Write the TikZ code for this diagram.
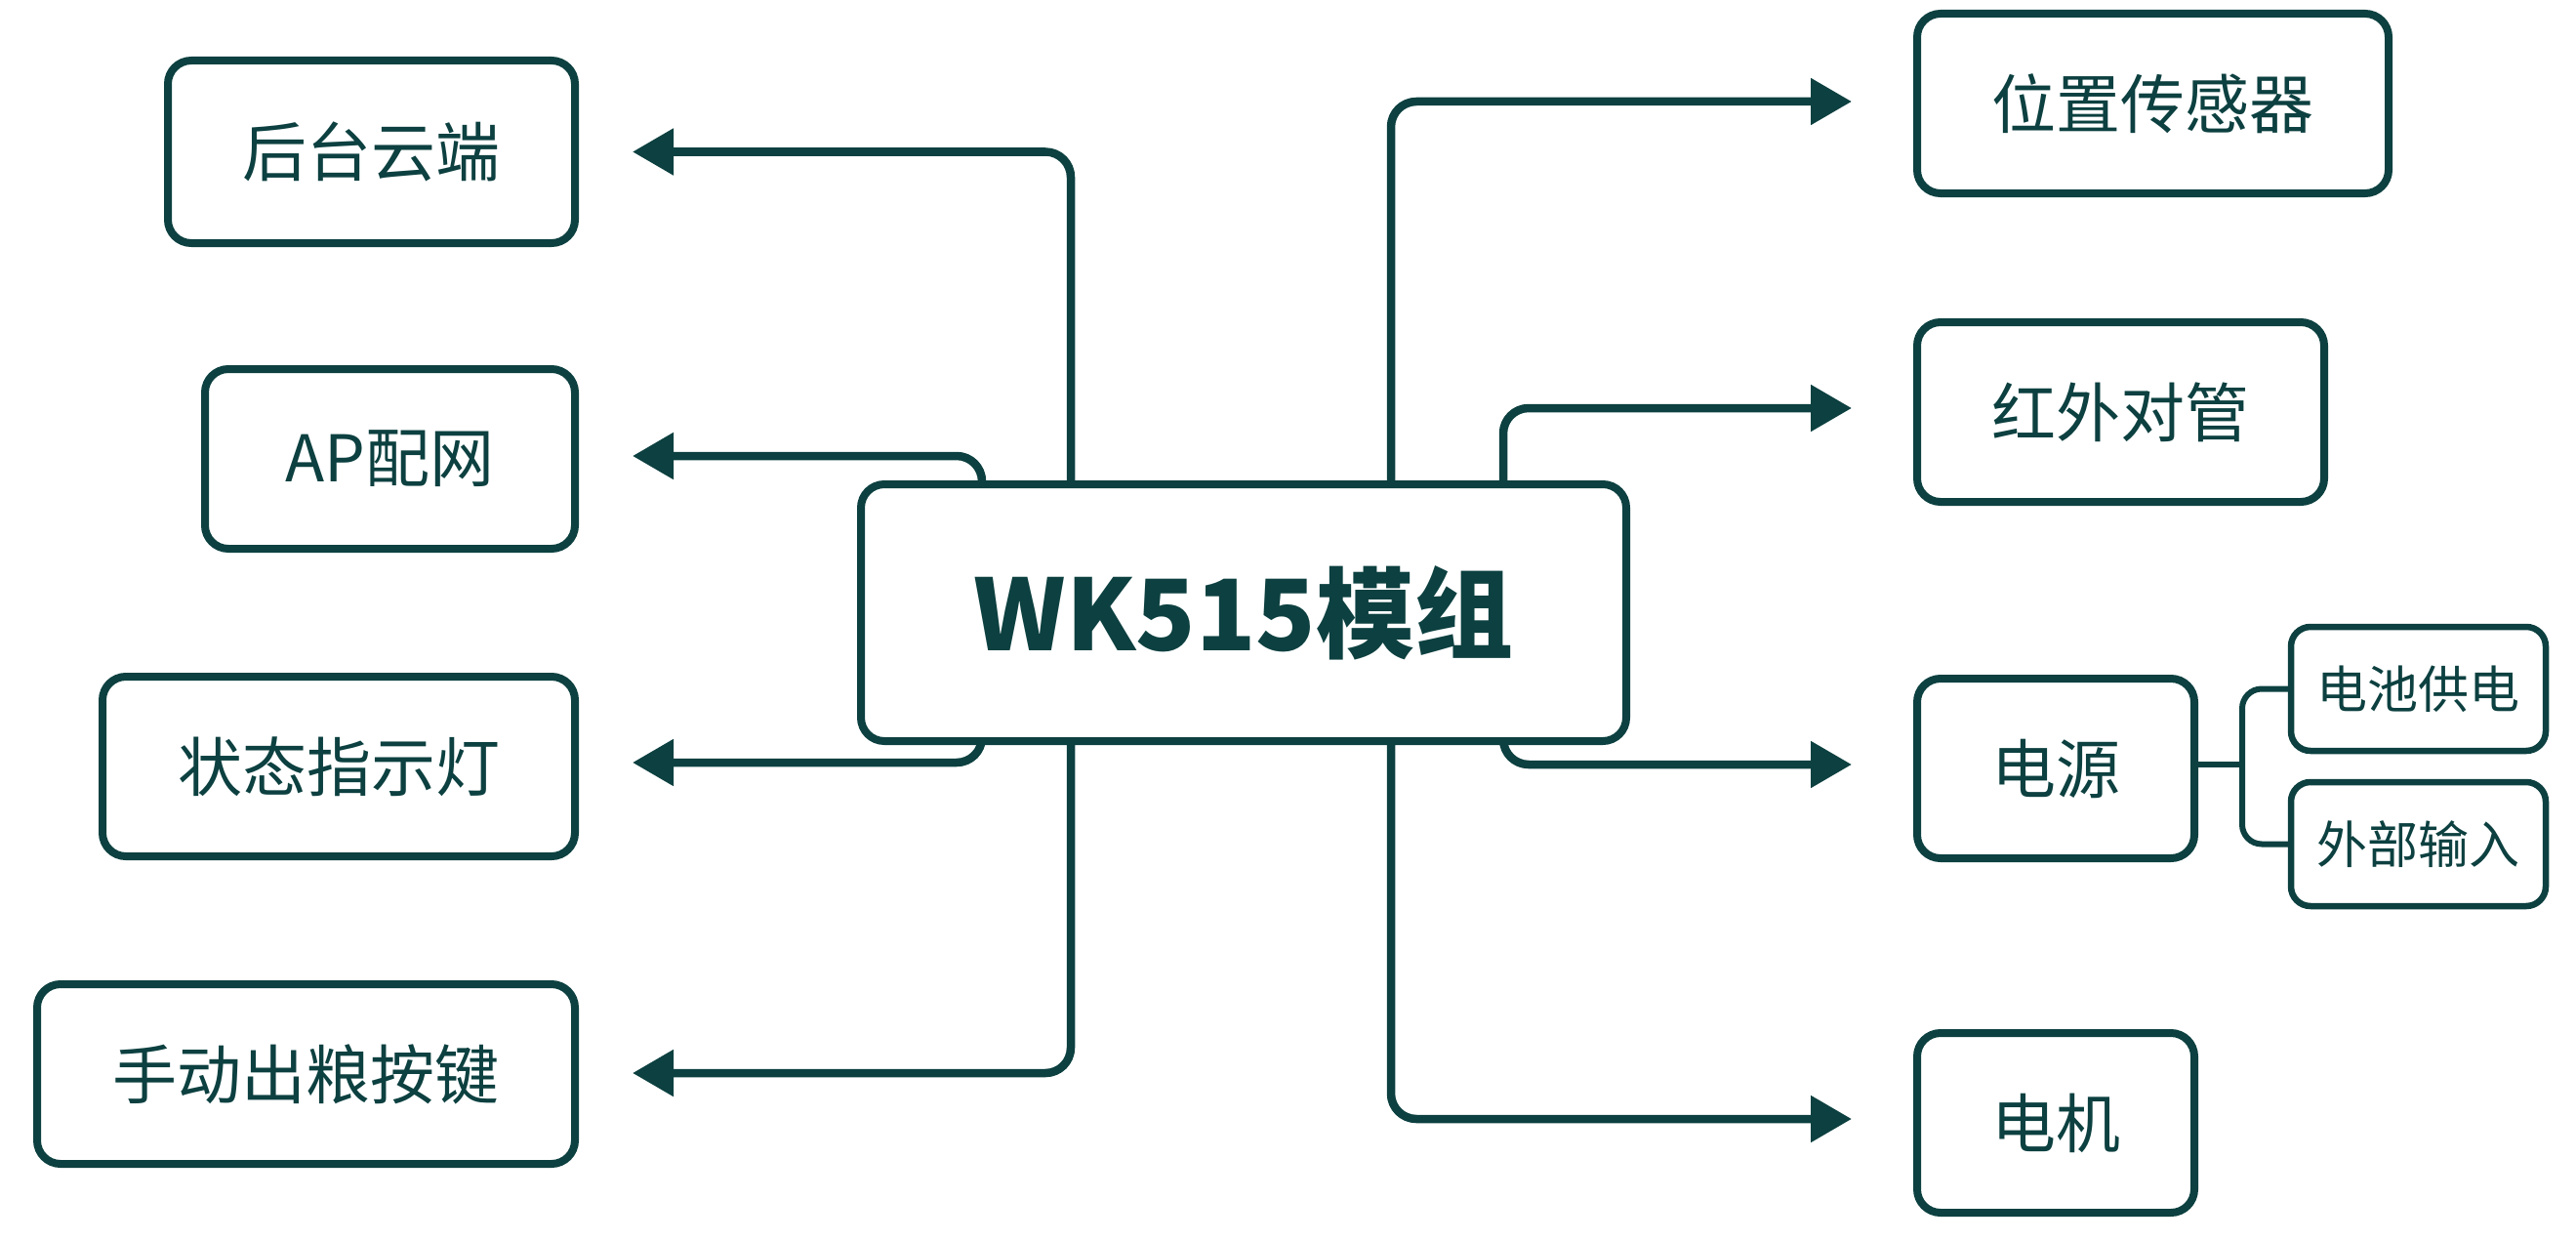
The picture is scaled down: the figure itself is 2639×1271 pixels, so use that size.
\documentclass[tikz,border=0pt]{standalone}
\usepackage{fontspec}
\setmainfont{Noto Sans CJK SC}
\usetikzlibrary{arrows.meta,calc}
\definecolor{teal1}{RGB}{13,64,64}
\begin{document}
\begin{tikzpicture}[x=1pt,y=-1pt,
  box/.style={draw=teal1,line width=8pt,rounded corners=24pt,fill=white,
    inner sep=0pt,text=teal1,font=\fontsize{66}{70}\selectfont},
  subbox/.style={box,line width=6.5pt,rounded corners=20pt,font=\fontsize{52}{56}\selectfont},
  mainbox/.style={box,font=\fontsize{101}{110}\selectfont\bfseries},
  conn/.style={draw=teal1,line width=8.5pt,rounded corners=26pt,
    -{Triangle[length=42pt,width=46pt]}},
  brk/.style={draw=teal1,line width=6pt,rounded corners=20pt}]
\useasboundingbox (0,0) rectangle (2639,1271);
% node positions
\coordinate (cWK) at (1274,627.5);
% left boxes
\node[box,minimum width=417pt,minimum height=187pt] (yun) at (380.5,155.5) {后台云端};
\node[box,minimum width=379pt,minimum height=184pt] (ap) at (399.5,470) {AP配网};
\node[box,minimum width=484pt,minimum height=184pt] (zt) at (347,785) {状态指示灯};
\node[box,minimum width=551pt,minimum height=184pt] (sd) at (313.5,1100) {手动出粮按键};
% right boxes
\node[box,minimum width=483pt,minimum height=184pt] (wz) at (2205.5,106) {位置传感器};
\node[box,minimum width=417pt,minimum height=184pt] (hw) at (2172.5,422) {红外对管};
\node[box,minimum width=284pt,minimum height=184pt] (dy) at (2106,787) {电源};
\node[box,minimum width=284pt,minimum height=184pt] (dj) at (2106,1150) {电机};
\node[subbox,minimum width=261pt,minimum height=127pt] (dc) at (2477.5,705.5) {电池供电};
\node[subbox,minimum width=261pt,minimum height=127pt] (wb) at (2477.5,864.5) {外部输入};
% arrow tips
\coordinate (yunT) at ($(yun.east)+(55,0)$);
\coordinate (apT) at ($(ap.east)+(55,-3)$);
\coordinate (ztT) at ($(zt.east)+(55,-4)$);
\coordinate (sdT) at ($(sd.east)+(55,-1)$);
\coordinate (wzT) at ($(wz.west)+(-63,-2)$);
\coordinate (hwT) at ($(hw.west)+(-63,-4)$);
\coordinate (dyT) at ($(dy.west)+(-63,-4)$);
\coordinate (djT) at ($(dj.west)+(-63,-4)$);
\coordinate (br) at ($(dy.east)+(45,-4)$);
% connectors (drawn beneath the main box)
\draw[conn] ($(cWK)+(-177,0)$) |- (yunT);
\draw[conn] ($(cWK)+(-268,0)$) |- (apT);
\draw[conn] ($(cWK)+(-268,0)$) |- (ztT);
\draw[conn] ($(cWK)+(-177,0)$) |- (sdT);
\draw[conn] ($(cWK)+(151,0)$) |- (wzT);
\draw[conn] ($(cWK)+(266,0)$) |- (hwT);
\draw[conn] ($(cWK)+(266,0)$) |- (dyT);
\draw[conn] ($(cWK)+(151,0)$) |- (djT);
\node[mainbox,minimum width=784pt,minimum height=263pt] (wk) at (cWK) {WK515模组};
% power bracket
\draw[brk] (dy.east |- br) -- (br);
\draw[brk] (dc.west) -| (br);
\draw[brk] (wb.west) -| (br);
\end{tikzpicture}
\end{document}
